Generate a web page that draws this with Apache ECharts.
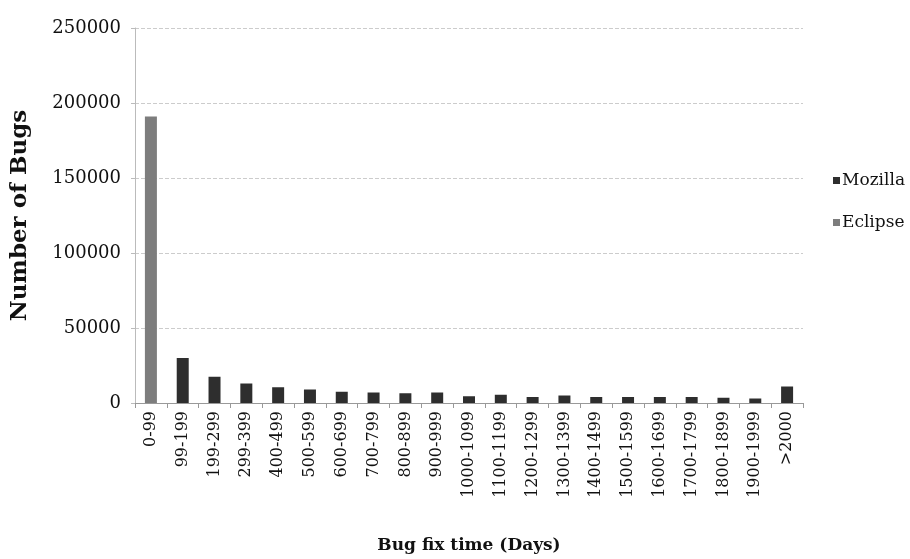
<!DOCTYPE html>
<html><head><meta charset="utf-8">
<script src="https://cdn.jsdelivr.net/npm/echarts@6/dist/echarts.min.js"></script>
<style>html,body{margin:0;padding:0;background:#fff}#c{width:910px;height:559px}</style>
</head><body><div id="c"></div>
<script>
const categories = ["0-99","99-199","199-299","299-399","400-499","500-599","600-699","700-799","800-899","900-999","1000-1099","1100-1199","1200-1299","1300-1399","1400-1499","1500-1599","1600-1699","1700-1799","1800-1899","1900-1999",">2000"];
const mozilla = [0,30000,17500,13000,10500,9000,7500,7000,6500,7000,4500,5500,4000,5000,4000,4000,4000,4000,3500,3000,11000];
const eclipse = [191000,0,0,0,0,0,0,0,0,0,0,0,0,0,0,0,0,0,0,0,0];
const yTicks = [0,50000,100000,150000,200000,250000];

const chart = echarts.init(document.getElementById('c'));
const serif = 'DejaVu Serif';
chart.setOption({
  animation:false,
  grid:{left:135,right:107,top:28,bottom:156},
  legend:{
    orient:'vertical', left:828, top:167, itemGap:25, itemGap:25,
    itemWidth:7, itemHeight:7, icon:'rect',
    textStyle:{fontFamily:serif,fontSize:17,color:'#111',padding:[0,0,0,-3]},
    data:['Mozilla','Eclipse']
  },
  xAxis:{
    type:'category', data:categories,
    name:'Bug fix time (Days)', nameLocation:'middle', nameGap:134,
    nameTextStyle:{fontFamily:serif,fontSize:17,fontWeight:'bold',color:'#111'},
    axisLine:{lineStyle:{color:'#999'}},
    axisTick:{show:true,alignWithLabel:false,length:5,lineStyle:{color:'#999'}},
    axisLabel:{rotate:90,interval:0,fontFamily:serif,fontSize:16,color:'#111',margin:8}
  },
  yAxis:{
    type:'value', min:0, max:250000, interval:50000,
    name:'Number of Bugs', nameLocation:'middle', nameGap:103, nameRotate:90,
    nameTextStyle:{fontFamily:serif,fontSize:23,fontWeight:'bold',color:'#111'},
    axisLine:{show:true,lineStyle:{color:'#bbb'}},
    axisTick:{show:true,length:4,lineStyle:{color:'#bbb'}},
    axisLabel:{fontFamily:serif,fontSize:18,color:'#111',margin:14,
      formatter:v=>yTicks.includes(v)?String(v):''},
    splitLine:{show:true,lineStyle:{color:'#ccc',type:'dashed'}}
  },
  series:[
    {name:'Mozilla',type:'bar',stack:'s',data:mozilla,barWidth:12,itemStyle:{color:'#2e2e2e'}},
    {name:'Eclipse',type:'bar',stack:'s',data:eclipse,barWidth:12,itemStyle:{color:'#7d7d7d'}}
  ]
});
</script></body></html>
